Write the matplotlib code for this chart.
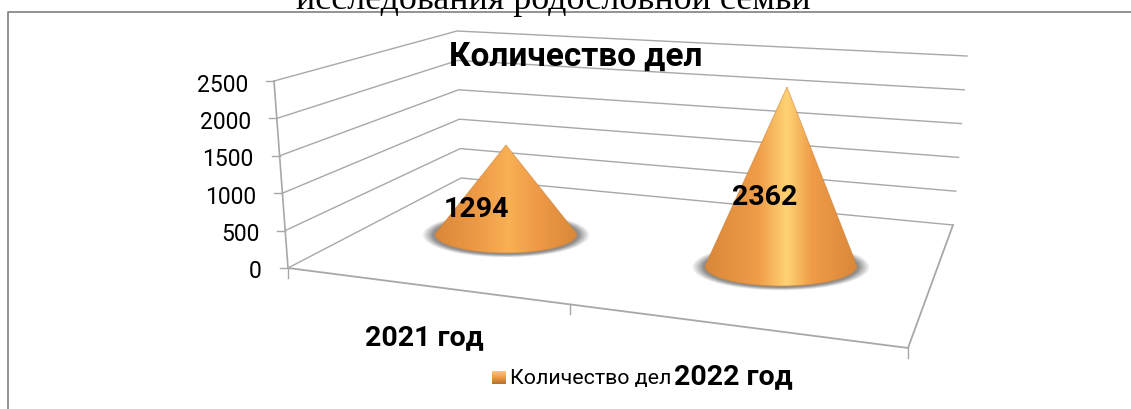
import numpy as np
import matplotlib
matplotlib.use('Agg')
import matplotlib.pyplot as plt
from matplotlib.colors import LinearSegmentedColormap
from matplotlib.patches import PathPatch
from matplotlib.path import Path

# Data
categories = ['2021 год', '2022 год']
values = [1294, 2362]
y_ticks = [0, 500, 1000, 1500, 2000, 2500]
series_name = 'Количество дел'
caption = 'исследования родословной семьи'

plt.rcParams['font.family'] = ['Roboto', 'DejaVu Sans']

fig = plt.figure(figsize=(11.31, 4.10), dpi=100)
ax = fig.add_axes([0, 0, 1, 1])

GRID = '#a8a8a8'
YMAX = 2500


def lerp(p0, p1, t):
    return (p0[0] + (p1[0] - p0[0]) * t, p0[1] + (p1[1] - p0[1]) * t)


# corners of the fake 3d box, in pixels
front_0, front_top = (288, 269), (274, 82)
back_0, back_top = (461, 179), (457, 32)
right_0, right_top = (953, 226), (967, 57)
floor_right = (908, 349)

# gridlines and y ticks
for v in y_ticks:
    t = v / YMAX
    a, b, c = lerp(front_0, front_top, t), lerp(back_0, back_top, t), lerp(right_0, right_top, t)
    ax.plot([a[0], b[0], c[0]], [a[1], b[1], c[1]], color=GRID, lw=1.0, zorder=1)
    ax.plot([a[0] - 8, a[0]], [a[1], a[1]], color=GRID, lw=1.0, zorder=1)
    ax.text(a[0] - 26, a[1] + 3, str(v), ha='right', va='center', fontsize=16.5, color='black')

# axes and floor
ax.plot([front_0[0], front_top[0]], [front_0[1], front_top[1]], color=GRID, lw=1.2, zorder=1)
ax.plot([front_0[0], floor_right[0], right_0[0]], [front_0[1], floor_right[1], right_0[1]],
        color=GRID, lw=1.3, zorder=1)
# the middle tick sits left of halfway because of the perspective
for t in [0, 0.455, 1]:
    p = lerp(front_0, floor_right, t)
    ax.plot([p[0], p[0]], [p[1], p[1] + 10], color=GRID, lw=1.0, zorder=1)

# cones: base centre x, apex x, base y, half widths, pixels per unit
base_x = [506, 781]
apex_x = [506, 787]
base_y = [235, 267]
half_w = [71, 76]
half_h = [19, 20]
unit = [0.0688, 0.0758]
stops = [
    [(0, '#d9873a'), (0.3, '#ee9a46'), (0.52, '#f8b055'), (0.72, '#ee9a46'), (1, '#d9873a')],
    [(0, '#d9873a'), (0.35, '#f09c48'), (0.54, '#fed374'), (0.7, '#f09c48'), (1, '#d9873a')],
]

for i, v in enumerate(values):
    cx, cy, w, h = base_x[i], base_y[i], half_w[i], half_h[i]

    # blurred shadow under the base
    xs = np.linspace(cx - w - 22, cx + w + 22, 200)
    ys = np.linspace(cy - h - 14, cy + h + 14, 100)
    X, Y = np.meshgrid(xs, ys)
    r = np.sqrt(((X - cx) / (w + 7)) ** 2 + ((Y - cy - 1) / (h + 2)) ** 2)
    shadow = np.zeros(X.shape + (4,))
    shadow[..., :3] = 0.45
    shadow[..., 3] = np.clip((1.08 - r) / 0.14, 0, 1) * 0.8
    ax.imshow(shadow, extent=[xs[0], xs[-1], ys[-1], ys[0]], aspect='auto', zorder=2)

    # cone outline
    apex = (apex_x[i], cy - v * unit[i])
    th = np.linspace(np.pi, 0, 60)
    verts = [apex] + list(zip(cx + w * np.cos(th), cy + h * np.sin(th))) + [apex]
    cone = Path(verts)
    cmap = LinearSegmentedColormap.from_list('cone%d' % i, stops[i])
    grad = np.linspace(0, 1, 256).reshape(1, -1)
    im = ax.imshow(grad, cmap=cmap, extent=[cx - w, cx + w, cy + h, apex[1]], aspect='auto', zorder=3)
    im.set_clip_path(PathPatch(cone, transform=ax.transData))
    ax.add_patch(PathPatch(cone, fill=False, ec='#c98038', lw=0.6, alpha=0.6, zorder=4))

# text on top
ax.text(576, 57, series_name, ha='center', va='center', fontsize=24, fontweight='bold', zorder=6)
ax.text(476, 210, str(values[0]), ha='center', va='center', fontsize=20.5, fontweight='bold', zorder=6)
ax.text(765, 198, str(values[1]), ha='center', va='center', fontsize=20.5, fontweight='bold', zorder=6)
ax.text(424, 338, categories[0], ha='center', va='center', fontsize=20.5, fontweight='bold', zorder=6)
ax.text(733, 377, categories[1], ha='center', va='center', fontsize=20.5, fontweight='bold', zorder=6)

# legend
swatch = LinearSegmentedColormap.from_list('sw', ['#fdc873', '#ef9a45', '#b5702f'])
ax.imshow(np.linspace(0, 1, 32).reshape(-1, 1), cmap=swatch, extent=[492, 506, 385, 372], aspect='auto', zorder=3)
ax.text(510, 379, series_name, ha='left', va='center', fontsize=15.4, zorder=6)

# frame of the chart in the document, and the line of text above it
ax.plot([8, 8, 1131], [410, 13, 13], color='#808080', lw=1.2, zorder=1)
ax.text(553, 9, caption, ha='center', va='baseline', fontsize=25.8, family=['Liberation Serif'], zorder=6)

ax.set_xlim(0, 1131)
ax.set_ylim(410, 0)
ax.axis('off')

fig.savefig('out.png', dpi=100)
